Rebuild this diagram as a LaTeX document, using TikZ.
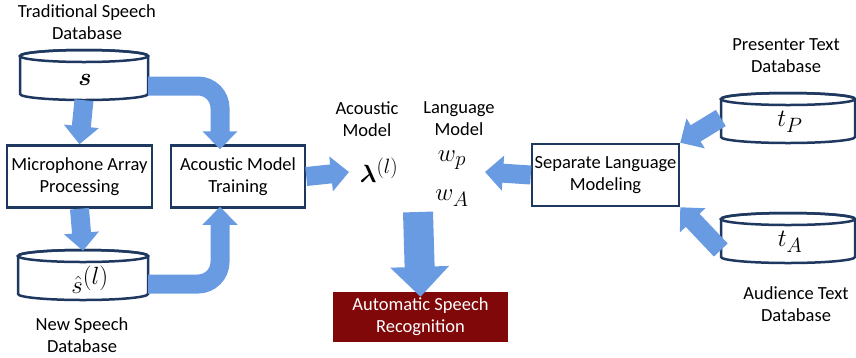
\documentclass[tikz,border=0pt]{standalone}
\usepackage{fontspec}
\setmainfont{Carlito}
\usepackage{amsmath,bm}
\usetikzlibrary{arrows.meta}

\definecolor{navy}{RGB}{31,56,96}
\definecolor{arrowblue}{RGB}{104,155,225}
\definecolor{asrred}{RGB}{128,8,8}

\begin{document}
\begin{tikzpicture}[x=1pt, y=-1pt,
    every node/.style={font=\fontsize{18.5}{22}\selectfont},
    caption/.style={align=center, inner sep=0pt},
    procbox/.style={rectangle, draw=navy, line width=2.5pt, fill=white, align=center,
                    inner sep=0pt, minimum width=#1, minimum height=62pt},
    dbline/.style={draw=navy, line width=2.5pt},
    db/.style={rectangle, inner sep=0pt, minimum height=50pt},
    mathlbl/.style={inner sep=0pt, font=\fontsize{29}{29}\selectfont},
    fat/.style={draw=arrowblue, line width=19pt, -{Triangle[width=34pt,length=18pt]}},
    curvedarrow/.style={fat, rounded corners=22pt},
]
\useasboundingbox (0,0) rectangle (856,357);

% databases (cylinders)
\foreach \n/\x/\y/\w in {sdb/84/75/64, newdb/83/275/65, tp/788/118/67, ta/788/238/67}{
  \draw[dbline, fill=white] (\x-\w,\y-19) -- (\x-\w,\y+19)
    arc[start angle=180, end angle=360, x radius=\w pt, y radius=6pt] -- (\x+\w,\y-19)
    arc[start angle=0, end angle=180, x radius=\w pt, y radius=6pt] -- cycle;
  \draw[dbline] (\x,\y-19) ellipse[x radius=\w pt, y radius=6pt];
  \node[db, minimum width=2*\w pt] (\n) at (\x,\y) {};
}

\node[caption] (tradlbl) at (87,22) {Traditional Speech\\Database};
\node[mathlbl] (slbl) at (85,80) {$\bm{s}$};
\node[mathlbl, font=\fontsize{33}{33}\selectfont] (shat) at (90,280) {$\hat{s}^{(l)}$};
\node[caption] (newlbl) at (82,335) {New Speech\\Database};

\node[caption] (preslbl) at (786,56) {Presenter Text\\Database};
\node[mathlbl] (tplbl) at (790,122) {$t_P$};
\node[mathlbl] (talbl) at (790,242) {$t_A$};
\node[caption] (audlbl) at (796,304) {Audience Text\\Database};

% processing boxes
\node[procbox=145pt] (mic) at (79.5,176.5) {Microphone Array\\Processing};
\node[procbox=134pt] (amt) at (238,176.5) {Acoustic Model\\Training};
\node[procbox=147pt] (slm) at (605.5,175) {Separate Language\\Modeling};

% models
\node[caption] (amlbl) at (367,119) {Acoustic\\Model};
\node[caption] (lmlbl) at (459,119) {Language\\Model};
\node[mathlbl] (lambda) at (379,170) {$\bm{\lambda}^{(l)}$};
\node[mathlbl] (wp) at (452,160) {$w_p$};
\node[mathlbl] (wa) at (452,198) {$w_A$};
\coordinate (models) at (418,212);

\node[rectangle, fill=asrred, text=white, align=center, inner sep=0pt,
      minimum width=175pt, minimum height=50pt] (asr) at (420.5,317) {Automatic Speech\\Recognition};

% arrows
\draw[fat] (sdb.south) -- (mic.north);
\draw[fat] (mic.south) -- ([yshift=-1pt]newdb.north);
\draw[curvedarrow] ([yshift=-11pt]sdb.east) -| ([xshift=-18pt,yshift=-5pt]amt.north);
\draw[curvedarrow] ([yshift=-9pt]newdb.east) -| ([xshift=-18pt,yshift=2pt]amt.south);
\draw[fat] (amt.east) -- (349,172);
\draw[fat] (slm.west) -- (485,172);
\draw[fat] (tp.west) -- (slm.north east);
\draw[fat] ([yshift=-12pt]ta.west) -- (slm.south east);
\draw[draw=arrowblue, line width=30pt, -{Triangle[width=57pt,length=30pt]}] (models) -- ([yshift=-5pt]asr.north);

\end{tikzpicture}
\end{document}
